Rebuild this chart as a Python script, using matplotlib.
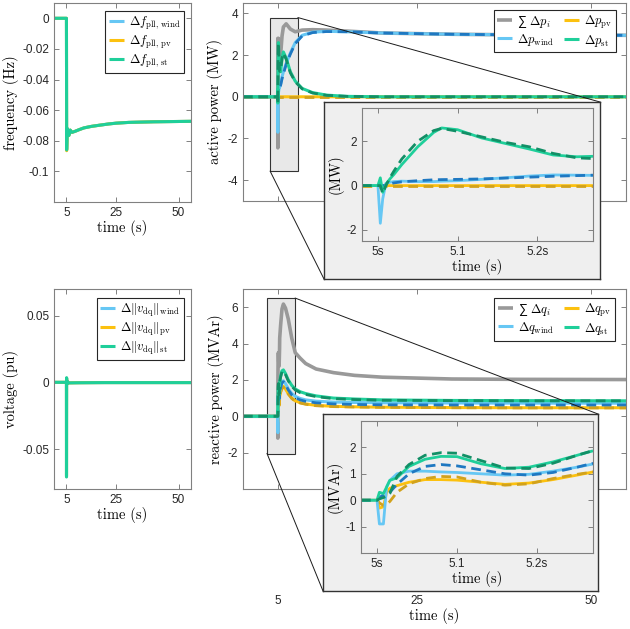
import matplotlib
matplotlib.use('Agg')
import matplotlib.pyplot as plt
from matplotlib.patches import Rectangle
from matplotlib.lines import Line2D

plt.rcParams['mathtext.fontset'] = 'cm'
plt.rcParams['axes.unicode_minus'] = False
plt.rcParams['font.family'] = ['Liberation Sans', 'DejaVu Sans']

# ---- frequency (top left)
t_f = [0, 5.0, 5.08, 5.3, 5.6, 6.0, 6.5, 7.2, 8.5, 10, 12, 15, 18, 22, 25, 30, 40, 55]
f_wind = [0, 0, -0.0855, -0.072, -0.075, -0.0765, -0.073, -0.0745, -0.0738, -0.0728, -0.0716,
          -0.0706, -0.0699, -0.069, -0.0685, -0.068, -0.0676, -0.0673]
f_pv = [0, 0, -0.0865, -0.072, -0.075, -0.0765, -0.073, -0.0745, -0.0738, -0.0728, -0.0716,
        -0.0706, -0.0699, -0.069, -0.0685, -0.068, -0.0676, -0.0673]
f_st = [0, 0, -0.086, -0.072, -0.075, -0.0765, -0.073, -0.0745, -0.0738, -0.0728, -0.0716,
        -0.0706, -0.0699, -0.069, -0.0685, -0.068, -0.0676, -0.0673]

# ---- voltage (bottom left)
t_v = [0, 5.0, 5.02, 5.06, 5.15, 5.4, 6, 10, 20, 55]
v_wind = [0, 0, -0.070, 0.003, -0.0015, 0.0005, -0.0004, -0.0003, -0.0002, -0.0002]
v_pv = [0, 0, -0.0705, 0.003, -0.0015, 0.0005, -0.0004, -0.0003, -0.0002, -0.0002]
v_st = [0, 0, -0.071, 0.0035, -0.0015, 0.0005, -0.0004, -0.0003, -0.0002, -0.0002]

# ---- active power, fast part (also the inset)
t_pf = [4.98, 5.0, 5.003, 5.006, 5.01, 5.015, 5.02, 5.03, 5.05, 5.07, 5.08, 5.1, 5.13, 5.16,
        5.19, 5.22, 5.25, 5.27]
psum_f = [0, 0, -2.45, 2.8, 0.3, 0.5, 0.7, 1.15, 1.95, 2.6, 2.8, 2.75, 2.45, 2.25, 2.1, 1.86, 1.77, 1.78]
pw_f = [0, 0, -1.7, -0.6, 0.1, 0.15, 0.18, 0.2, 0.18, 0.18, 0.2, 0.22, 0.28, 0.35, 0.43, 0.48, 0.47, 0.46]
pw_fd = [0, 0, 0, 0, 0.02, 0.08, 0.12, 0.17, 0.22, 0.26, 0.27, 0.28, 0.3, 0.34, 0.38, 0.42, 0.45, 0.47]
ppv_f = [0, 0, -0.12, -0.05, 0, 0, 0, 0, 0, 0, 0, 0, 0, 0, 0, 0, 0, 0]
ppv_fd = [0, 0, 0, 0, 0, 0, 0, 0, 0, 0, 0, 0, 0, 0, 0, 0, 0, 0]
pst_f = [0, 0, 0.35, -0.3, 0.05, 0.3, 0.5, 0.95, 1.75, 2.4, 2.6, 2.52, 2.15, 1.9, 1.65, 1.38, 1.3, 1.32]
pst_fd = [0, 0, 0, -0.35, 0.0, 0.35, 0.65, 1.2, 2.0, 2.48, 2.58, 2.45, 2.2, 1.95, 1.75, 1.45, 1.25, 1.22]

# ---- active power, slow part
t_ps = [5.4, 5.6, 5.8, 6.2, 6.8, 7.5, 8.5, 10, 12, 15, 20, 30, 40, 55]
psum_s = [2.0, 2.9, 3.35, 3.5, 3.25, 3.12, 3.2, 3.22, 3.2, 3.15, 3.06, 3.0, 2.97, 2.95]
pw_s = [0.6, 0.95, 1.2, 1.6, 2.1, 2.6, 2.95, 3.1, 3.14, 3.12, 3.06, 3.0, 2.97, 2.95]
pw_sd = [0.55, 0.85, 1.1, 1.55, 2.05, 2.55, 2.92, 3.08, 3.13, 3.12, 3.06, 3.0, 2.97, 2.95]
ppv_s = [0, 0, 0, 0, 0, 0, 0, 0, 0, 0, 0, 0, 0, 0]
pst_s = [1.2, 1.8, 2.15, 1.85, 1.2, 0.75, 0.4, 0.2, 0.08, 0.02, 0, 0, 0, 0]
pst_sd = [1.25, 1.85, 2.1, 1.8, 1.15, 0.72, 0.38, 0.18, 0.07, 0.02, 0, 0, 0, 0]

# ---- reactive power, fast part (also the inset)
t_qf = [4.98, 5.0, 5.003, 5.008, 5.012, 5.016, 5.025, 5.04, 5.06, 5.08, 5.1, 5.13, 5.16, 5.19,
        5.22, 5.25, 5.27]
qsum_f = [0, 0, -1.2, -0.9, 1.3, 1.95, 2.4, 3.05, 3.45, 3.5, 3.45, 3.05, 2.75, 2.85, 3.25, 3.7, 4.3]
qw_f = [0, 0, -0.9, -0.9, 0.5, 0.75, 1.0, 1.1, 1.1, 1.07, 1.05, 1.0, 0.95, 0.98, 1.1, 1.25, 1.37]
qw_fd = [0, 0, 0.1, 0.2, 0.25, 0.3, 0.6, 1.0, 1.28, 1.35, 1.3, 1.15, 1.0, 0.95, 1.05, 1.25, 1.4]
qpv_f = [0, 0, -0.3, -0.25, 0.3, 0.45, 0.55, 0.68, 0.78, 0.78, 0.76, 0.68, 0.6, 0.65, 0.78, 0.95, 1.07]
qpv_fd = [0, 0, -0.1, -0.2, -0.15, -0.05, 0.3, 0.62, 0.82, 0.9, 0.88, 0.68, 0.57, 0.62, 0.82, 0.98, 1.07]
qst_f = [0, 0, 0.3, 0.25, 0.5, 0.75, 0.85, 1.28, 1.55, 1.66, 1.65, 1.38, 1.2, 1.25, 1.45, 1.7, 1.87]
qst_fd = [0, 0, 0.05, 0.1, 0.15, 0.25, 0.9, 1.35, 1.7, 1.8, 1.78, 1.5, 1.22, 1.2, 1.4, 1.7, 1.88]

# ---- reactive power, slow part
t_qs = [5.4, 5.6, 5.8, 6.1, 6.5, 7.0, 7.5, 8.2, 9, 10.5, 13, 16, 20, 30, 40, 55]
qsum_s = [5.0, 5.9, 6.17, 5.95, 5.35, 4.3, 3.5, 3.2, 2.9, 2.6, 2.4, 2.25, 2.15, 2.05, 2.03, 2.02]
qw_s = [1.6, 1.9, 1.95, 1.8, 1.5, 1.25, 1.1, 0.98, 0.9, 0.83, 0.78, 0.76, 0.74, 0.73, 0.72, 0.72]
qw_sd = [1.55, 1.85, 1.9, 1.75, 1.45, 1.18, 1.02, 0.9, 0.82, 0.74, 0.68, 0.65, 0.63, 0.62, 0.62, 0.62]
qpv_s = [1.35, 1.6, 1.65, 1.5, 1.25, 1.0, 0.85, 0.75, 0.68, 0.6, 0.55, 0.52, 0.5, 0.48, 0.47, 0.47]
qpv_sd = [1.3, 1.55, 1.6, 1.48, 1.22, 0.98, 0.83, 0.73, 0.66, 0.58, 0.53, 0.51, 0.49, 0.47, 0.46, 0.46]
qst_s = [2.2, 2.5, 2.55, 2.35, 2.0, 1.7, 1.5, 1.35, 1.25, 1.12, 1.0, 0.95, 0.9, 0.87, 0.86, 0.85]
qst_sd = [2.15, 2.45, 2.5, 2.3, 1.95, 1.65, 1.45, 1.3, 1.2, 1.08, 0.97, 0.92, 0.88, 0.86, 0.85, 0.85]

C_WIND, C_WIND_D = '#66c7f4', '#1f78c1'
C_PV, C_PV_D = '#fcc10f', '#d2a21c'
C_ST, C_ST_D = '#1fcf9a', '#128f66'
C_SUM = '#999999'
BOXGRAY = '#efefef'

W, H = 630, 629
fig = plt.figure(figsize=(W / 100, H / 100), dpi=100)

LBL = dict(family='cmr10', size=10.5)


def add_ax(x0, y0, x1, y1, **kw):
    return fig.add_axes([x0 / W, 1 - y1 / H, (x1 - x0) / W, (y1 - y0) / H], **kw)


def style(ax, spine='#808080'):
    for s in ax.spines.values():
        s.set_color(spine)
        s.set_linewidth(0.8)
    ax.tick_params(direction='in', length=3.5, width=0.7, color=spine, labelcolor='#262626',
                   labelsize=8.5, top=True, right=True)


def solid(ax, t, y, c, lw=2.2, z=2):
    return ax.plot(t, y, color=c, lw=lw, zorder=z, solid_capstyle='butt')[0]


def dashed(ax, t, y, c, lw=2.0, z=2):
    return ax.plot(t, y, color=c, lw=lw, dashes=(3.5, 2.0), zorder=z)[0]


def legend(ax, handles, labels, anchor, ncol=1):
    lg = ax.legend(handles, labels, loc='upper right', bbox_to_anchor=anchor, ncol=ncol,
                   fontsize=9, handlelength=1.2, handletextpad=0.4, borderpad=0.3,
                   labelspacing=0.15, columnspacing=0.8, fancybox=False, framealpha=1,
                   edgecolor='#262626', borderaxespad=0)
    lg.get_frame().set_linewidth(0.8)
    return lg


def connect(ax, xy, px):
    p = fig.transFigure.inverted().transform(ax.transData.transform(xy))
    fig.add_artist(Line2D([p[0], px[0] / W], [p[1], 1 - px[1] / H], transform=fig.transFigure,
                          color='#1a1a1a', lw=0.7, zorder=1))


# ================= frequency
ax_f = add_ax(54, 3, 191, 202)
style(ax_f)
h1 = solid(ax_f, t_f, f_wind, C_WIND)
h2 = solid(ax_f, t_f, f_pv, C_PV)
h3 = solid(ax_f, t_f, f_st, C_ST)
ax_f.set_xlim(0, 55)
ax_f.set_ylim(-0.12, 0.01)
ax_f.set_xticks([5, 25, 50], ['5', '25', '50'])
ax_f.set_yticks([-0.1, -0.08, -0.06, -0.04, -0.02, 0], ['-0.1', '-0.08', '-0.06', '-0.04', '-0.02', '0'])
ax_f.set_xlabel('time (s)', **LBL, labelpad=1)
ax_f.set_ylabel('frequency (Hz)', **LBL, labelpad=2)
legend(ax_f, [h1, h2, h3], [r'$\Delta f_{\mathrm{pll,\,wind}}$', r'$\Delta f_{\mathrm{pll,\,pv}}$',
                            r'$\Delta f_{\mathrm{pll,\,st}}$'], (0.95, 0.96))

# ================= voltage
ax_v = add_ax(54, 289, 191, 489)
style(ax_v)
h1 = solid(ax_v, t_v, v_wind, C_WIND)
h2 = solid(ax_v, t_v, v_pv, C_PV)
h3 = solid(ax_v, t_v, v_st, C_ST)
ax_v.set_xlim(0, 55)
ax_v.set_ylim(-0.08, 0.07)
ax_v.set_xticks([5, 25, 50], ['5', '25', '50'])
ax_v.set_yticks([-0.05, 0, 0.05], ['-0.05', '0', '0.05'])
ax_v.set_xlabel('time (s)', **LBL, labelpad=1)
ax_v.set_ylabel('voltage (pu)', **LBL, labelpad=2)
legend(ax_v, [h1, h2, h3], [r'$\Delta\Vert v_{\mathrm{dq}}\Vert_{\mathrm{wind}}$',
                            r'$\Delta\Vert v_{\mathrm{dq}}\Vert_{\mathrm{pv}}$',
                            r'$\Delta\Vert v_{\mathrm{dq}}\Vert_{\mathrm{st}}$'], (0.95, 0.955))


# ================= active / reactive power main axes
def power_panel(ax, tf, ts, sum_f, sum_s, series, rect, ylim, yticks):
    style(ax)
    t_all = [0] + tf + ts
    hs = solid(ax, t_all, [0] + sum_f + sum_s, C_SUM, lw=2.6, z=2)
    handles = [hs]
    z = 2.1
    for yf, ys, ydf, yds, c, cd in series:
        h = solid(ax, t_all, [0] + yf + ys, c, z=z)
        dashed(ax, t_all, [0] + ydf + yds, cd, z=z + 0.05)
        handles.append(h)
        z += 0.1
    ax.add_patch(Rectangle((rect[0], rect[1]), rect[2] - rect[0], rect[3] - rect[1],
                           fc='#e8e8e8', ec='#333333', lw=0.8, zorder=1))
    ax.set_xlim(0, 55)
    ax.set_ylim(*ylim)
    ax.set_xticks([5, 25, 50], ['5', '25', '50'])
    ax.set_yticks(yticks, [f'{v:g}' for v in yticks])
    return handles


def inset(box, inner, tf, series, ylim, yticks, ylabel):
    axb = add_ax(*box, zorder=2)
    axb.set_facecolor(BOXGRAY)
    axb.set_xticks([])
    axb.set_yticks([])
    for s in axb.spines.values():
        s.set_color('#333333')
        s.set_linewidth(1.0)
    ax = add_ax(*inner, zorder=3)
    ax.set_facecolor(BOXGRAY)
    style(ax)
    z = 2.1
    for yf, ys, ydf, yds, c, cd in series:
        solid(ax, tf, yf, c, lw=2.0, z=z)
        dashed(ax, tf, ydf, cd, lw=2.0, z=z + 0.05)
        z += 0.1
    ax.set_xlim(4.98, 5.27)
    ax.set_ylim(*ylim)
    ax.set_xticks([5.0, 5.1, 5.2], ['5s', '5.1', '5.2s'])
    ax.set_yticks(yticks, [f'{v:g}' for v in yticks])
    ax.set_xlabel('time (s)', **LBL, labelpad=1)
    ax.set_ylabel(ylabel, **LBL, labelpad=2)
    return ax


p_series = [(ppv_f, ppv_s, ppv_fd, ppv_s, C_PV, C_PV_D),
            (pw_f, pw_s, pw_fd, pw_sd, C_WIND, C_WIND_D),
            (pst_f, pst_s, pst_fd, pst_sd, C_ST, C_ST_D)]
q_series = [(qpv_f, qpv_s, qpv_fd, qpv_sd, C_PV, C_PV_D),
            (qw_f, qw_s, qw_fd, qw_sd, C_WIND, C_WIND_D),
            (qst_f, qst_s, qst_fd, qst_sd, C_ST, C_ST_D)]

ax_p = add_ax(243, 3, 626, 201)
p_rect = (3.9, -3.57, 7.9, 3.8)
hp = power_panel(ax_p, t_pf, t_ps, psum_f, psum_s, p_series, p_rect, (-5, 4.5), [-4, -2, 0, 2, 4])
ax_p.tick_params(labelbottom=False)
ax_p.set_ylabel('active power (MW)', **LBL, labelpad=3)
legend(ax_p, [hp[0], hp[2], hp[1], hp[3]],
       ['\u2211 ' + r'$\Delta p_i$', r'$\Delta p_{\mathrm{wind}}$', r'$\Delta p_{\mathrm{pv}}$',
        r'$\Delta p_{\mathrm{st}}$'], (0.974, 0.965), ncol=2)

ax_q = add_ax(243, 289, 626, 489)
q_rect = (3.45, -2.05, 7.5, 6.5)
hq = power_panel(ax_q, t_qf, t_qs, qsum_f, qsum_s, q_series, q_rect, (-4, 7), [-2, 0, 2, 4, 6])
ax_q.tick_params(axis='x', pad=76)
ax_q.set_xlabel('time (s)', **LBL, labelpad=1)
ax_q.set_ylabel('reactive power (MVAr)', **LBL, labelpad=3)
legend(ax_q, [hq[0], hq[2], hq[1], hq[3]],
       ['\u2211 ' + r'$\Delta q_i$', r'$\Delta q_{\mathrm{wind}}$', r'$\Delta q_{\mathrm{pv}}$',
        r'$\Delta q_{\mathrm{st}}$'], (0.971, 0.955), ncol=2)

# insets
p_box = (324, 102, 600, 279)
inset(p_box, (362, 108, 593, 241), t_pf, p_series, (-2.5, 3.5), [-2, 0, 2], '(MW)')
q_box = (323, 414, 598, 591)
inset(q_box, (361, 421, 593, 553), t_qf, q_series, (-2, 3), [-1, 0, 1, 2], '(MVAr)')

connect(ax_p, (p_rect[2], p_rect[3]), (p_box[2], p_box[1]))
connect(ax_p, (p_rect[0], p_rect[1]), (p_box[0], p_box[3]))
connect(ax_q, (q_rect[2], q_rect[3]), (q_box[2], q_box[1]))
connect(ax_q, (q_rect[0], q_rect[1]), (q_box[0], q_box[3]))

fig.savefig('out.png', dpi=100)
